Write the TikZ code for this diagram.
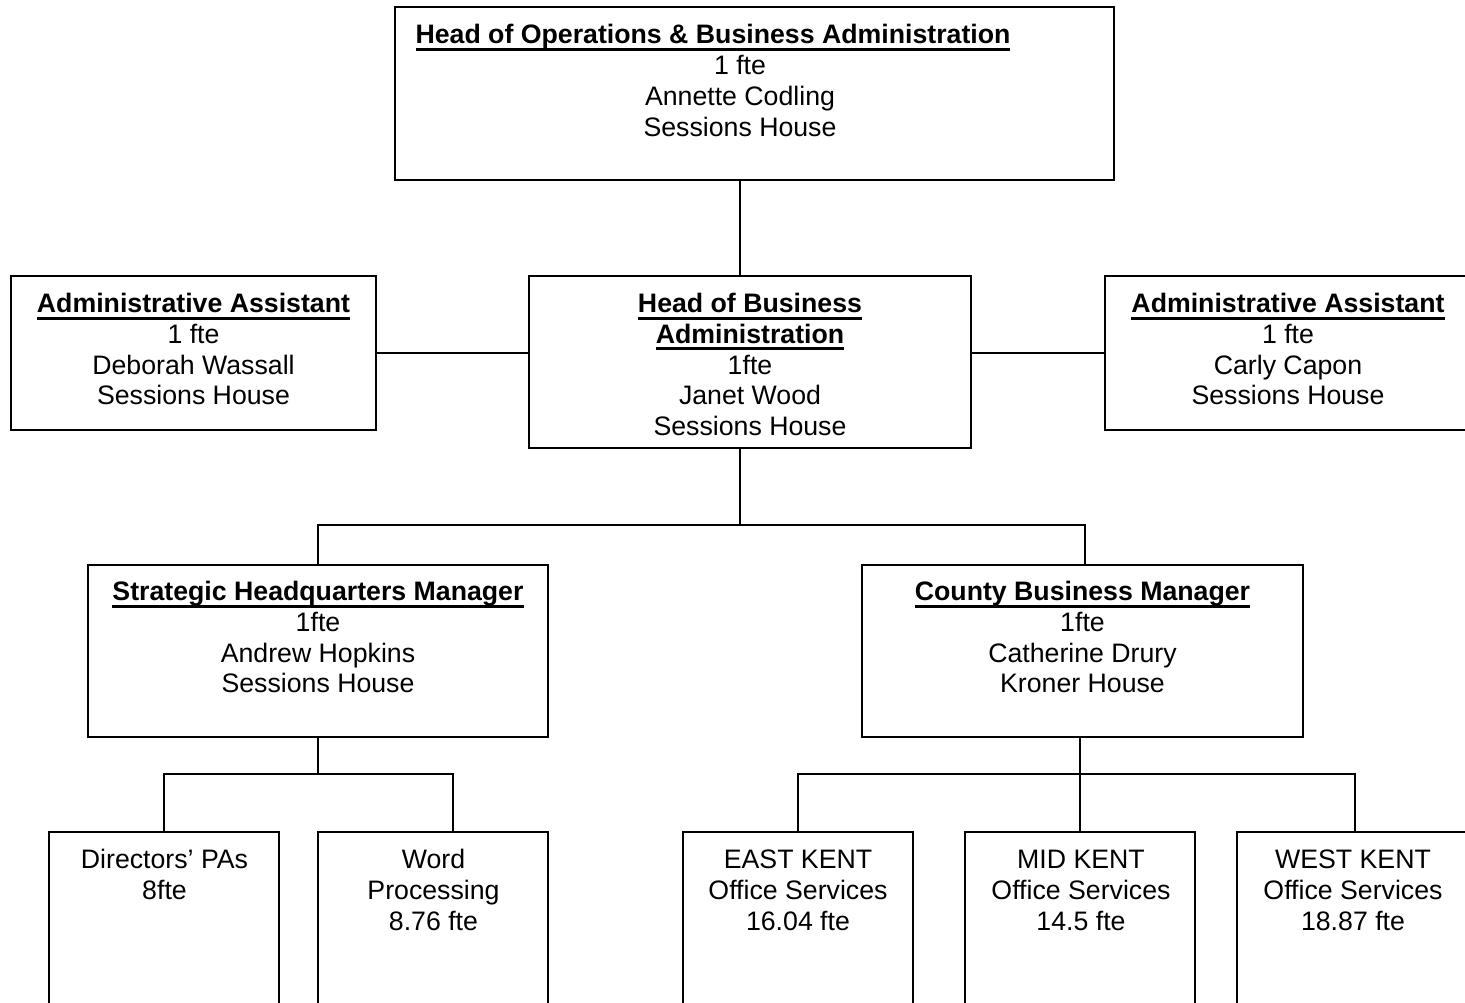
\documentclass[tikz,border=0pt]{standalone}
\usepackage{fontspec}
\setmainfont{Liberation Sans}
\newcommand\ulbf[1]{\setbox0\hbox{\bfseries #1}\rlap{\rule[-7pt]{\wd0}{3pt}}\box0}
\newcommand\fl{\rule{0pt}{20pt}}
\tikzset{
  box/.style={draw, line width=1.3pt, inner sep=0pt, outer sep=0pt},
  txt/.style={anchor=north, align=center, inner sep=0pt, font=\fontsize{26.7}{30.7}\selectfont},
  conn/.style={line width=1.3pt}
}
\begin{document}
\begin{tikzpicture}[x=1pt,y=-1pt]
\useasboundingbox (0,0) rectangle (1465,1002);
\fill[white] (0,0) rectangle (1465,1002);
\clip (0,0) rectangle (1465,1002);
% boxes
\node[box, minimum width=719pt, minimum height=173pt] (top) at (754.5,93.5) {};
\node[box, minimum width=442pt, minimum height=172pt] (mid) at (750,362) {};
\node[box, minimum width=365pt, minimum height=154pt] (ladm) at (193.5,353) {};
\node[box, minimum width=366pt, minimum height=154pt] (radm) at (1288,353) {};
\node[box, minimum width=460pt, minimum height=172pt] (strat) at (318,651) {};
\node[box, minimum width=441pt, minimum height=172pt] (county) at (1082.5,651) {};
\node[box, minimum width=230pt, minimum height=188pt] (dir) at (164,926) {};
\node[box, minimum width=230pt, minimum height=188pt] (word) at (433,926) {};
\node[box, minimum width=230pt, minimum height=188pt] (east) at (798,926) {};
\node[box, minimum width=230pt, minimum height=188pt] (midk) at (1080,926) {};
\node[box, minimum width=236pt, minimum height=188pt] (west) at (1355,926) {};
% texts
\node[txt] (toptitle) at (713,23.5) {\fl\ulbf{Head of Operations \& Business Administration}};
\node[txt] (toptxt) at (740,54.5) {\fl 1 fte\\Annette Codling\\Sessions House};
\node[txt] (midtxt) at (750,292.5) {\fl\ulbf{Head of Business}\\\ulbf{Administration}\\1fte\\Janet Wood\\Sessions House};
\node[txt] (ladmtxt) at (193.5,292.5) {\fl\ulbf{Administrative Assistant}\\1 fte\\Deborah Wassall\\Sessions House};
\node[txt] (radmtxt) at (1288,292.5) {\fl\ulbf{Administrative Assistant}\\1 fte\\Carly Capon\\Sessions House};
\node[txt] (strattxt) at (318,580.5) {\fl\ulbf{Strategic Headquarters Manager}\\1fte\\Andrew Hopkins\\Sessions House};
\node[txt] (countytxt) at (1082.5,580.5) {\fl\ulbf{County Business Manager}\\1fte\\Catherine Drury\\Kroner House};
\node[txt] (dirtxt) at (164.5,848.5) {\fl Directors’ PAs\\8fte};
\node[txt] (wordtxt) at (433.5,848.5) {\fl Word\\Processing\\8.76 fte};
\node[txt] (easttxt) at (798,848.5) {\fl EAST KENT\\Office Services\\16.04 fte};
\node[txt] (midktxt) at (1081,848.5) {\fl MID KENT\\Office Services\\14.5 fte};
\node[txt] (westtxt) at (1353,848.5) {\fl WEST KENT\\Office Services\\18.87 fte};
% junction coordinates
\coordinate (bus1) at (740,525);
\coordinate (c1) at (1085,525);
\coordinate (bus2) at (318,774);
\coordinate (w2) at (453,774);
\coordinate (bus3) at (1080,774);
% connectors
\draw[conn] (toptxt |- top.south) -- (toptxt |- mid.north);
\draw[conn] (ladm.east) -- (mid.west |- ladm.east);
\draw[conn] (mid.east |- radm.west) -- (radm.west);
\draw[conn] (toptxt |- mid.south) -- (bus1);
\draw[conn] (strat.north) |- (c1) -- (c1 |- county.north);
\draw[conn] (strat.south) -- (bus2);
\draw[conn] (dir.north) |- (w2) -- (w2 |- word.north);
\draw[conn] (bus3 |- county.south) -- (bus3);
\draw[conn] (east.north) |- (bus3) -| (west.north);
\draw[conn] (bus3) -- (midk.north);
\end{tikzpicture}
\end{document}
